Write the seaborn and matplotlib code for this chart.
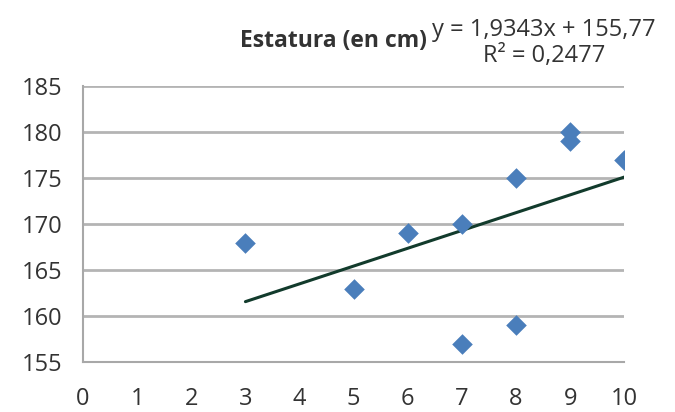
import matplotlib
matplotlib.use("Agg")
import matplotlib.pyplot as plt
import seaborn as sns
import pandas as pd
import numpy as np

x_vals = [3, 5, 6, 7, 7, 8, 8, 9, 9, 10]
y_vals = [168, 163, 169, 170, 157, 175, 159, 180, 179, 177]
title = "Estatura (en cm)"
eq_text = "y = 1,9343x + 155,77\nR² = 0,2477"
x_ticks = list(range(0, 11))
y_ticks = [155, 160, 165, 170, 175, 180, 185]

df = pd.DataFrame({"x": x_vals, "y": y_vals})

sns.set_theme(style="white")
plt.rcParams['font.family'] = ['Open Sans', 'DejaVu Sans']

fig = plt.figure(figsize=(6.75, 4.12), dpi=100)
ax = fig.add_axes([0.123, 0.121, 0.802, 0.670])

sns.regplot(data=df, x="x", y="y", scatter=False, ci=None, truncate=True,
            line_kws={"color": "#123b2c", "lw": 2.2}, ax=ax)
sns.scatterplot(data=df, x="x", y="y", marker="D", s=110, color="#4a7ebb",
                edgecolor="#4a7ebb", linewidth=0, ax=ax, zorder=4)

ax.set_xlim(0, 10)
ax.set_ylim(155, 185)
ax.set_xticks(x_ticks)
ax.set_yticks(y_ticks)
ax.set_xlabel("")
ax.set_ylabel("")
ax.grid(axis="y", color="#b4b4b4", lw=2)
ax.grid(axis="x", visible=False)
ax.set_axisbelow(True)
for s in ["top", "right"]:
    ax.spines[s].set_visible(False)
for s in ["left", "bottom"]:
    ax.spines[s].set_color("#a8a8a8")
    ax.spines[s].set_linewidth(1.5)
ax.tick_params(axis="both", direction="out", length=5, width=1.5, color="#a8a8a8",
               labelsize=17, labelcolor="#333333", pad=10)
ax.tick_params(axis="x", pad=13)

fig.text(0.633, 0.901, title, ha="right", va="center", fontsize=16.5,
         fontweight="bold", color="#333333")
fig.text(0.806, 0.896, eq_text, ha="center", va="center", fontsize=17,
         color="#333333", linespacing=1.12)

fig.savefig("out.png", dpi=100)
